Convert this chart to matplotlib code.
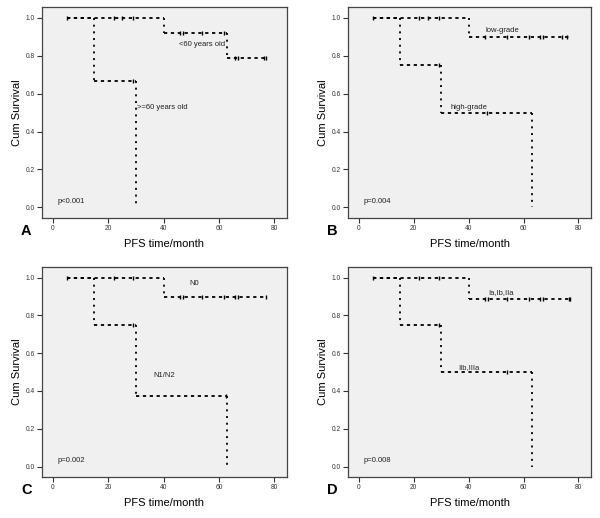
import matplotlib
matplotlib.use("Agg")
import matplotlib.pyplot as plt
import numpy as np

plt.rcParams['font.family'] = ['Liberation Sans', 'DejaVu Sans']

# panel A: age
a_hi_t = [5, 40, 63, 77.5]
a_hi_s = [1.0, 0.917, 0.786, 0.786]
a_hi_cens = [5, 22, 25, 29, 46, 47, 54, 62, 66, 67, 76.5, 77]
a_lo_t = [5, 15, 30]
a_lo_s = [1.0, 0.667, 0.0]
a_lo_cens = [29]

# panel B: grade
b_hi_t = [5, 40, 77]
b_hi_s = [1.0, 0.9, 0.9]
b_hi_cens = [5, 22, 25, 29, 46, 54, 62, 66, 67, 74, 76]
b_lo_t = [5, 15, 30, 63]
b_lo_s = [1.0, 0.75, 0.5, 0.0]
b_lo_cens = [29, 46.5]

# panel C: N stage
c_hi_t = [5, 40, 77.5]
c_hi_s = [1.0, 0.9, 0.9]
c_hi_cens = [5, 22, 29, 46, 47, 54, 62, 66, 67, 77]
c_lo_t = [5, 15, 30, 63]
c_lo_s = [1.0, 0.75, 0.375, 0.0]
c_lo_cens = [29, 62.5]

# panel D: stage
d_hi_t = [5, 40, 77.2]
d_hi_s = [1.0, 0.889, 0.889]
d_hi_cens = [5, 22, 29, 46, 47, 54, 62, 66, 67, 76.5, 77]
d_lo_t = [5, 15, 30, 63]
d_lo_s = [1.0, 0.75, 0.5, 0.0]
d_lo_cens = [29, 54]

panels = [
    ('A', [0.07, 0.579, 0.408, 0.407], (a_hi_t, a_hi_s, a_hi_cens), (a_lo_t, a_lo_s, a_lo_cens),
     [('<60 years old', 45.5, 0.857), ('>=60 years old', 30.5, 0.525)], 'p<0.001'),
    ('B', [0.58, 0.579, 0.405, 0.407], (b_hi_t, b_hi_s, b_hi_cens), (b_lo_t, b_lo_s, b_lo_cens),
     [('low-grade', 46, 0.93), ('high-grade', 33.4, 0.526)], 'p=0.004'),
    ('C', [0.07, 0.079, 0.408, 0.405], (c_hi_t, c_hi_s, c_hi_cens), (c_lo_t, c_lo_s, c_lo_cens),
     [('N0', 49.3, 0.97), ('N1/N2', 36.4, 0.484)], 'p=0.002'),
    ('D', [0.58, 0.079, 0.405, 0.405], (d_hi_t, d_hi_s, d_hi_cens), (d_lo_t, d_lo_s, d_lo_cens),
     [('Ia,Ib,IIa', 47.1, 0.92), ('IIb,IIIa', 36.3, 0.526)], 'p=0.008'),
]


def surv_at(t, times, surv):
    # value of step curve at time t
    idx = np.searchsorted(times, t, side='right') - 1
    idx = max(idx, 0)
    return surv[idx]


def draw_curve(ax, times, surv, cens):
    # horizontal parts dashed, vertical drops dotted (like SPSS output)
    for i in range(len(times) - 1):
        ax.plot([times[i], times[i + 1]], [surv[i], surv[i]], color='black',
                lw=1.3, linestyle=(0, (1.8, 2.0)), solid_capstyle='butt')
        if surv[i + 1] != surv[i]:
            ax.plot([times[i + 1], times[i + 1]], [surv[i], surv[i + 1]],
                    color='black', lw=1.3, linestyle=(0, (1.1, 2.6)))
    ys = [surv_at(c, times, surv) for c in cens]
    ax.plot(cens, ys, linestyle='none', marker='|', color='black',
            markersize=3, markeredgewidth=1.0)


fig = plt.figure(figsize=(6, 5.18), dpi=100)

for letter, rect, hi, lo, labels, ptxt in panels:
    ax = fig.add_axes(rect)
    ax.set_facecolor('#f0f0f0')
    draw_curve(ax, *lo)
    draw_curve(ax, *hi)
    for txt, x, y in labels:
        ax.text(x, y, txt, fontsize=5.5, ha='left', va='center', color='#222222')
    ax.text(1.5, 0.03, ptxt, fontsize=5.5, ha='left', va='center', color='#222222')
    ax.set_xlim(-4, 84.6)
    ax.set_ylim(-0.056, 1.055)
    ax.set_xticks([0, 20, 40, 60, 80])
    ax.set_yticks([0.0, 0.2, 0.4, 0.6, 0.8, 1.0])
    ax.set_yticklabels(['0.0', '0.2', '0.4', '0.6', '0.8', '1.0'])
    ax.tick_params(labelsize=4.8, length=3.5, width=0.8, pad=1.5, colors='#333333')
    for s in ax.spines.values():
        s.set_color('#444444')
        s.set_linewidth(0.9)
    ax.set_xlabel('PFS time/month', fontsize=8, labelpad=5)
    ax.set_ylabel('Cum Survival', fontsize=8, labelpad=3)
    fig.text(rect[0] - 0.026, rect[1] - 0.024, letter, fontsize=10.5,
             fontweight='bold', ha='center', va='center')

fig.savefig('out.png', dpi=100)
